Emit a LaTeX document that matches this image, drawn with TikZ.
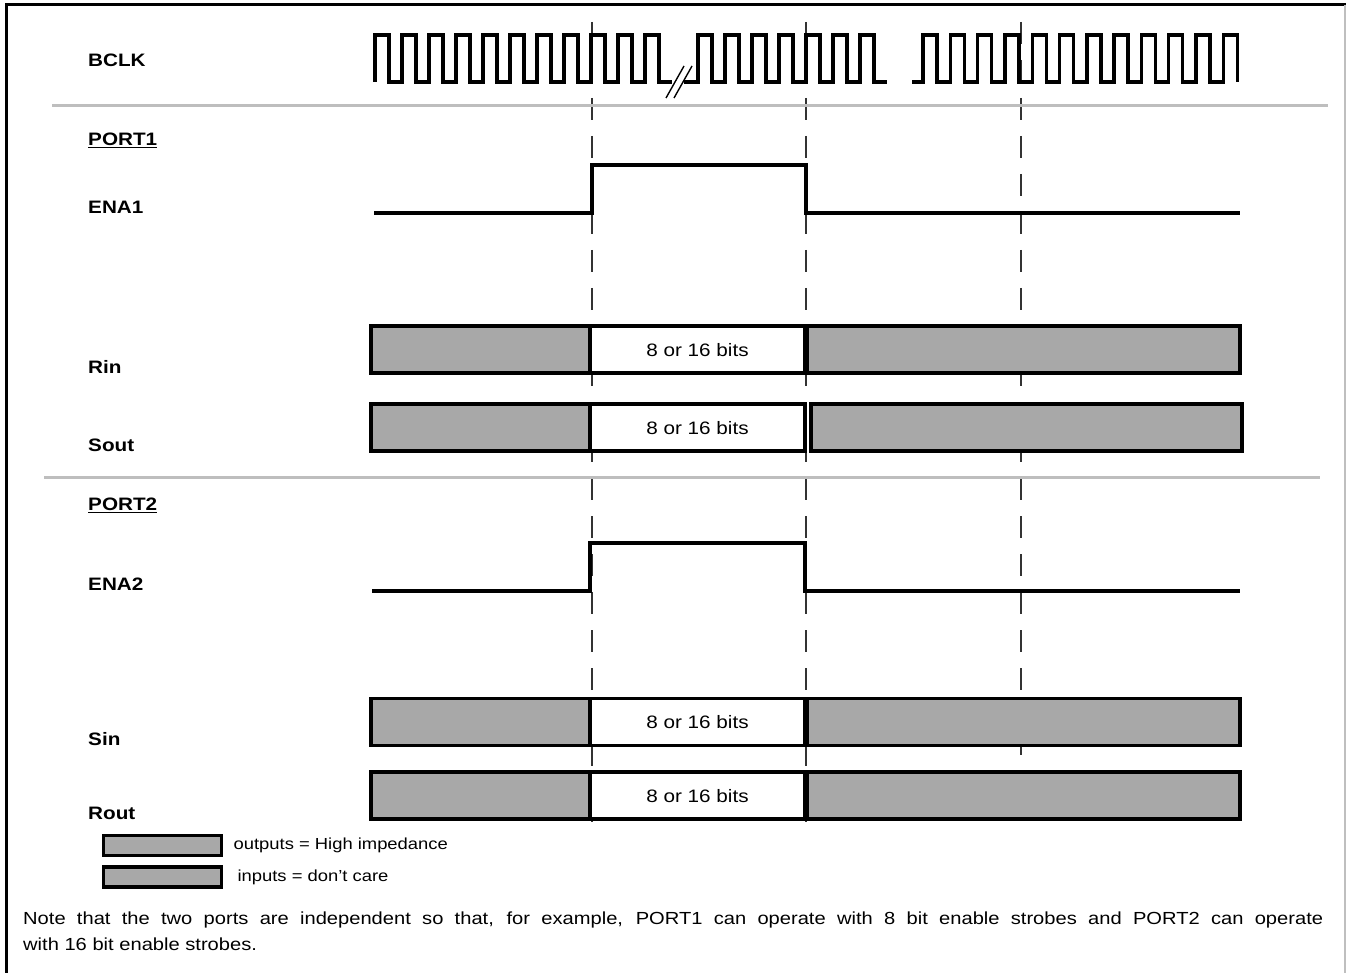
\documentclass[tikz,border=0pt]{standalone}
\usepackage{fontspec}
\setmainfont{Liberation Sans}[FakeStretch=1.15]
\usetikzlibrary{positioning}
\definecolor{hiz}{RGB}{168,168,168}
\definecolor{sepgray}{RGB}{190,190,190}

\begin{document}
\begin{tikzpicture}[x=1pt,y=-1pt,
  font=\fontsize{18}{21}\selectfont,
  lbl/.style={anchor=base west,font=\fontsize{18}{21}\selectfont\bfseries,inner sep=0pt},
  wave/.style={line width=3.4pt,line join=miter},
  cursor/.style={line width=1.4pt,black!80,dash pattern=on 22pt off 16pt},
  sep/.style={line width=3pt,sepgray},
  hizbox/.style={draw,line width=3.8pt,fill=hiz,inner sep=0pt},
  bitbox/.style={draw,line width=3.8pt,fill=white,inner sep=0pt},
  key/.style={anchor=west,font=\fontsize{16}{19}\selectfont,inner sep=0pt}]
\useasboundingbox (0,0) rectangle (1346,973);
% frame
\draw[line width=3pt] (6,973) -- (6,5) -- (1346,5);
\draw[line width=1.5pt,black!25] (1345,5) -- (1345,973);
% cursors
\foreach \x/\yb in {592/822, 806/822, 1021/755}
  \draw[cursor] (\x,22) -- (\x,\yb);
% separators
\draw[sep] (52,106) -- (1328,106);
\draw[sep] (44,477) -- (1320,477);
% labels
\node[lbl] (bclk) at (88,66.5) {BCLK};
\node[lbl] (port1) at (88,145.5) {\underline{PORT1}};
\node[lbl] (ena1) at (88,213.5) {ENA1};
\node[lbl] (rin) at (88,373.5) {Rin};
\node[lbl] (sout) at (88,451.5) {Sout};
\node[lbl] (port2) at (88,510.5) {\underline{PORT2}};
\node[lbl] (ena2) at (88,590.5) {ENA2};
\node[lbl] (sin) at (88,745.5) {Sin};
\node[lbl] (rout) at (88,819.5) {Rout};
% BCLK
\draw[wave] (375,82) \foreach \k in {0,...,10}{ -- ++(0,-47) -- ++(14,0) -- ++(0,47) -- ++(13,0)};
\draw[line width=1.4pt] (666,98) -- (684,66);
\draw[line width=1.4pt] (674,98) -- (692,66);
\draw[wave] (684,82) -- (698,82) \foreach \k in {0,...,6}{ -- ++(0,-47) -- ++(14,0) -- ++(0,47) -- ++(13,0)};
\draw[wave] (912,82) -- (923,82) \foreach \k in {0,...,10}{ -- ++(0,-47) -- ++(14,0) -- ++(0,47) -- ++(13.3,0)}
  -- ++(0,-47) -- ++(14,0) -- ++(0,47);
% enables
\draw[wave] (374,213) -- (592,213) -- (592,165) -- (806,165) -- (806,213) -- (1240,213);
\draw[wave] (372,591) -- (590,591) -- (590,543) -- (805,543) -- (805,591) -- (1240,591);
% data bars
\foreach \nm/\yc/\gx/\ex in {rin/349.5/805/1238, sout/427.5/809/1240, sin/722/805/1238, rout/795.5/805/1238}{
  \node[hizbox,minimum width=219pt,minimum height=47pt] (\nm-l) at (480.5,\yc) {};
  \node[hizbox,minimum width={\ex-\gx},minimum height=47pt,anchor=west] (\nm-r) at (\gx,\yc) {};
  \node[bitbox,minimum width=215pt,minimum height=47pt,text depth=-4pt] (\nm-b) at (697.5,\yc) {8 or 16 bits};
}
% legend
\node[hizbox,minimum width=118pt,minimum height=20pt] (keyout) at (162.5,845.5) {};
\node[hizbox,minimum width=118pt,minimum height=20pt] (keyin) at (162.5,877) {};
\node[key,right=10pt of keyout] (keyouttxt) {outputs = High impedance};
\node[key,right=14pt of keyin] (keyintxt) {inputs = don’t care};
% note
\node[anchor=north west,text width=1300pt,align=justify,inner sep=0pt,
      font=\fontsize{17.5}{26}\selectfont] (note) at (23,912)
  {Note that the two ports are independent so that, for example, PORT1 can operate with 8 bit enable strobes and PORT2 can operate\linebreak with 16 bit enable strobes.};
\end{tikzpicture}
\end{document}
